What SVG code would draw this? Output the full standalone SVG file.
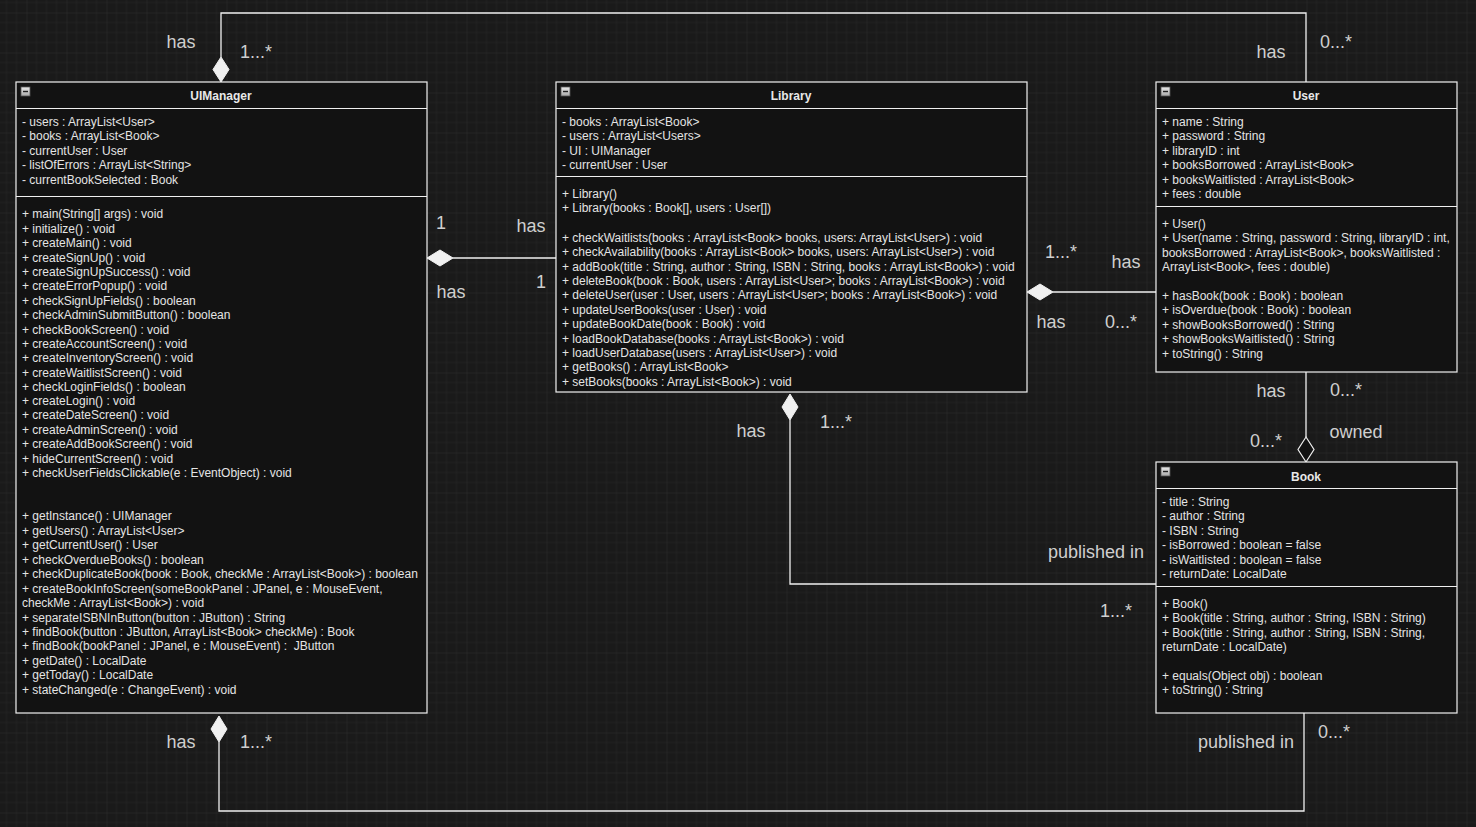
<svg xmlns="http://www.w3.org/2000/svg" width="1476" height="827" viewBox="0 0 1476 827">
  <defs>
    <!-- drawing grid: fine lines every 10px, stronger every 40px -->
    <pattern id="grid" x="26.5" y="12.5" width="40" height="40" patternUnits="userSpaceOnUse">
      <path d="M10 0V40M20 0V40M30 0V40M0 10H40M0 20H40M0 30H40" stroke="#222222" stroke-width="1" fill="none"/>
      <path d="M0 0V40M0 0H40" stroke="#2d2d2d" stroke-width="1" fill="none"/>
    </pattern>
    <linearGradient id="btn" x1="0" y1="0" x2="0" y2="1">
      <stop offset="0" stop-color="#e8e8e8"/>
      <stop offset="1" stop-color="#a8a8a8"/>
    </linearGradient>
    <g id="collapse">
      <rect x="0" y="0" width="9" height="9" fill="url(#btn)" stroke="#555" stroke-width="0.8"/>
      <path d="M2 4.5H7" stroke="#222" stroke-width="1.4"/>
    </g>
  </defs>
  <style>
    .box { fill: #121212; stroke: #f0f0f0; stroke-width: 1.2; }
    .sep { stroke: #f0f0f0; stroke-width: 1.2; }
    .title { font-family: "Liberation Sans", Arial, sans-serif; font-size: 12px; font-weight: bold; fill: #e8e8e8; text-anchor: middle; }
    .m { font-family: "Liberation Sans", Arial, sans-serif; font-size: 12px; fill: #e4e4e4; }
    .lbl { font-family: "Liberation Sans", Arial, sans-serif; font-size: 18px; fill: #cfcfcf; text-anchor: middle; }
    .edge { fill: none; stroke: #f0f0f0; stroke-width: 1.3; }
    .dia { fill: #f0f0f0; stroke: #f0f0f0; stroke-width: 1; }
    .odia { fill: #121212; stroke: #f0f0f0; stroke-width: 1.2; }
  </style>

  <rect x="0" y="0" width="1476" height="827" fill="#1a1a1a"/>
  <rect x="0" y="0" width="1476" height="827" fill="url(#grid)"/>

  <!-- connectors -->
  <g id="connectors">
    <!-- UIManager (top) composition with User -->
    <path class="edge" d="M221 57V13H1306V82"/>
    <polygon class="dia" points="221,82 229,69.5 221,57 213,69.5"/>
    <!-- UIManager composition with Library -->
    <path class="edge" d="M453 258H556"/>
    <polygon class="dia" points="427,258 440,250 453,258 440,266"/>
    <!-- Library composition with User -->
    <path class="edge" d="M1053 292H1156"/>
    <polygon class="dia" points="1027,292 1040,284 1053,292 1040,300"/>
    <!-- Library composition with Book -->
    <path class="edge" d="M790 420V584H1156"/>
    <polygon class="dia" points="790,394 798,407 790,420 782,407"/>
    <!-- User aggregation of Book -->
    <path class="edge" d="M1306 372V437"/>
    <polygon class="odia" points="1306,437 1314,449.5 1306,462 1298,449.5"/>
    <!-- Book to UIManager (bottom) -->
    <path class="edge" d="M1304 713V811H219V742"/>
    <polygon class="dia" points="219,716 227,729 219,742 211,729"/>

    <text class="lbl" x="181" y="48">has</text>
    <text class="lbl" x="256" y="58">1...*</text>
    <text class="lbl" x="1271" y="58">has</text>
    <text class="lbl" x="1336" y="48">0...*</text>

    <text class="lbl" x="441" y="229">1</text>
    <text class="lbl" x="531" y="232">has</text>
    <text class="lbl" x="451" y="298">has</text>
    <text class="lbl" x="541" y="288">1</text>

    <text class="lbl" x="1061" y="258">1...*</text>
    <text class="lbl" x="1126" y="268">has</text>
    <text class="lbl" x="1051" y="328">has</text>
    <text class="lbl" x="1121" y="328">0...*</text>

    <text class="lbl" x="751" y="437">has</text>
    <text class="lbl" x="836" y="428">1...*</text>
    <text class="lbl" x="1096" y="558">published in</text>
    <text class="lbl" x="1116" y="617">1...*</text>

    <text class="lbl" x="1271" y="397">has</text>
    <text class="lbl" x="1346" y="396">0...*</text>
    <text class="lbl" x="1356" y="438">owned</text>
    <text class="lbl" x="1266" y="447">0...*</text>

    <text class="lbl" x="181" y="748">has</text>
    <text class="lbl" x="256" y="748">1...*</text>
    <text class="lbl" x="1246" y="748">published in</text>
    <text class="lbl" x="1334" y="738">0...*</text>
  </g>

  <!-- UIManager class -->
  <g id="UIManager">
    <rect class="box" x="16" y="82" width="411" height="631"/>
    <line class="sep" x1="16" y1="108.5" x2="427" y2="108.5"/>
    <line class="sep" x1="16" y1="196.5" x2="427" y2="196.5"/>
    <use href="#collapse" x="21" y="87"/>
    <g transform="translate(0,1)">
    <text class="title" x="221" y="99">UIManager</text>
    <text class="m" x="22" y="125">- users : ArrayList&lt;User&gt;</text>
    <text class="m" x="22" y="139">- books : ArrayList&lt;Book&gt;</text>
    <text class="m" x="22" y="154">- currentUser : User</text>
    <text class="m" x="22" y="168">- listOfErrors : ArrayList&lt;String&gt;</text>
    <text class="m" x="22" y="183">- currentBookSelected : Book</text>
    <text class="m" x="22" y="217">+ main(String[] args) : void</text>
    <text class="m" x="22" y="232">+ initialize() : void</text>
    <text class="m" x="22" y="246">+ createMain() : void</text>
    <text class="m" x="22" y="261">+ createSignUp() : void</text>
    <text class="m" x="22" y="275">+ createSignUpSuccess() : void</text>
    <text class="m" x="22" y="289">+ createErrorPopup() : void</text>
    <text class="m" x="22" y="304">+ checkSignUpFields() : boolean</text>
    <text class="m" x="22" y="318">+ checkAdminSubmitButton() : boolean</text>
    <text class="m" x="22" y="333">+ checkBookScreen() : void</text>
    <text class="m" x="22" y="347">+ createAccountScreen() : void</text>
    <text class="m" x="22" y="361">+ createInventoryScreen() : void</text>
    <text class="m" x="22" y="376">+ createWaitlistScreen() : void</text>
    <text class="m" x="22" y="390">+ checkLoginFields() : boolean</text>
    <text class="m" x="22" y="404">+ createLogin() : void</text>
    <text class="m" x="22" y="418">+ createDateScreen() : void</text>
    <text class="m" x="22" y="433">+ createAdminScreen() : void</text>
    <text class="m" x="22" y="447">+ createAddBookScreen() : void</text>
    <text class="m" x="22" y="462">+ hideCurrentScreen() : void</text>
    <text class="m" x="22" y="476">+ checkUserFieldsClickable(e : EventObject) : void</text>
    <text class="m" x="22" y="519">+ getInstance() : UIManager</text>
    <text class="m" x="22" y="534">+ getUsers() : ArrayList&lt;User&gt;</text>
    <text class="m" x="22" y="548">+ getCurrentUser() : User</text>
    <text class="m" x="22" y="563">+ checkOverdueBooks() : boolean</text>
    <text class="m" x="22" y="577">+ checkDuplicateBook(book : Book, checkMe : ArrayList&lt;Book&gt;) : boolean</text>
    <text class="m" x="22" y="592">+ createBookInfoScreen(someBookPanel : JPanel, e : MouseEvent,</text>
    <text class="m" x="22" y="606">checkMe : ArrayList&lt;Book&gt;) : void</text>
    <text class="m" x="22" y="621">+ separateISBNInButton(button : JButton) : String</text>
    <text class="m" x="22" y="635">+ findBook(button : JButton, ArrayList&lt;Book&gt; checkMe) : Book</text>
    <text class="m" x="22" y="649" xml:space="preserve">+ findBook(bookPanel : JPanel, e : MouseEvent) :  JButton</text>
    <text class="m" x="22" y="664">+ getDate() : LocalDate</text>
    <text class="m" x="22" y="678">+ getToday() : LocalDate</text>
    <text class="m" x="22" y="693">+ stateChanged(e : ChangeEvent) : void</text>
    </g>
  </g>

  <!-- Library class -->
  <g id="Library">
    <rect class="box" x="556" y="82" width="471" height="310"/>
    <line class="sep" x1="556" y1="108.5" x2="1027" y2="108.5"/>
    <line class="sep" x1="556" y1="176.5" x2="1027" y2="176.5"/>
    <use href="#collapse" x="561" y="87"/>
    <g transform="translate(0,1)">
    <text class="title" x="791" y="99">Library</text>
    <text class="m" x="562" y="125">- books : ArrayList&lt;Book&gt;</text>
    <text class="m" x="562" y="139">- users : ArrayList&lt;Users&gt;</text>
    <text class="m" x="562" y="154">- UI : UIManager</text>
    <text class="m" x="562" y="168">- currentUser : User</text>
    <text class="m" x="562" y="197">+ Library()</text>
    <text class="m" x="562" y="211">+ Library(books : Book[], users : User[])</text>
    <text class="m" x="562" y="241">+ checkWaitlists(books : ArrayList&lt;Book&gt; books, users: ArrayList&lt;User&gt;) : void</text>
    <text class="m" x="562" y="255">+ checkAvailability(books : ArrayList&lt;Book&gt; books, users: ArrayList&lt;User&gt;) : void</text>
    <text class="m" x="562" y="270">+ addBook(title : String, author : String, ISBN : String, books : ArrayList&lt;Book&gt;) : void</text>
    <text class="m" x="562" y="284">+ deleteBook(book : Book, users : ArrayList&lt;User&gt;; books : ArrayList&lt;Book&gt;) : void</text>
    <text class="m" x="562" y="298">+ deleteUser(user : User, users : ArrayList&lt;User&gt;; books : ArrayList&lt;Book&gt;) : void</text>
    <text class="m" x="562" y="313">+ updateUserBooks(user : User) : void</text>
    <text class="m" x="562" y="327">+ updateBookDate(book : Book) : void</text>
    <text class="m" x="562" y="342">+ loadBookDatabase(books : ArrayList&lt;Book&gt;) : void</text>
    <text class="m" x="562" y="356">+ loadUserDatabase(users : ArrayList&lt;User&gt;) : void</text>
    <text class="m" x="562" y="370">+ getBooks() : ArrayList&lt;Book&gt;</text>
    <text class="m" x="562" y="385">+ setBooks(books : ArrayList&lt;Book&gt;) : void</text>
    </g>
  </g>

  <!-- User class -->
  <g id="User">
    <rect class="box" x="1156" y="82" width="301" height="290"/>
    <line class="sep" x1="1156" y1="108.5" x2="1457" y2="108.5"/>
    <line class="sep" x1="1156" y1="206.5" x2="1457" y2="206.5"/>
    <use href="#collapse" x="1161" y="87"/>
    <g transform="translate(0,1)">
    <text class="title" x="1306" y="99">User</text>
    <text class="m" x="1162" y="125">+ name : String</text>
    <text class="m" x="1162" y="139">+ password : String</text>
    <text class="m" x="1162" y="154">+ libraryID : int</text>
    <text class="m" x="1162" y="168">+ booksBorrowed : ArrayList&lt;Book&gt;</text>
    <text class="m" x="1162" y="183">+ booksWaitlisted : ArrayList&lt;Book&gt;</text>
    <text class="m" x="1162" y="197">+ fees : double</text>
    <text class="m" x="1162" y="227">+ User()</text>
    <text class="m" x="1162" y="241">+ User(name : String, password : String, libraryID : int,</text>
    <text class="m" x="1162" y="256">booksBorrowed : ArrayList&lt;Book&gt;, booksWaitlisted :</text>
    <text class="m" x="1162" y="270">ArrayList&lt;Book&gt;, fees : double)</text>
    <text class="m" x="1162" y="299">+ hasBook(book : Book) : boolean</text>
    <text class="m" x="1162" y="313">+ isOverdue(book : Book) : boolean</text>
    <text class="m" x="1162" y="328">+ showBooksBorrowed() : String</text>
    <text class="m" x="1162" y="342">+ showBooksWaitlisted() : String</text>
    <text class="m" x="1162" y="357">+ toString() : String</text>
    </g>
  </g>

  <!-- Book class -->
  <g id="Book">
    <rect class="box" x="1156" y="462" width="301" height="251"/>
    <line class="sep" x1="1156" y1="488.5" x2="1457" y2="488.5"/>
    <line class="sep" x1="1156" y1="586.5" x2="1457" y2="586.5"/>
    <use href="#collapse" x="1161" y="467"/>
    <g transform="translate(0,1)">
    <text class="title" x="1306" y="480">Book</text>
    <text class="m" x="1162" y="505">- title : String</text>
    <text class="m" x="1162" y="519">- author : String</text>
    <text class="m" x="1162" y="534">- ISBN : String</text>
    <text class="m" x="1162" y="548">- isBorrowed : boolean = false</text>
    <text class="m" x="1162" y="563">- isWaitlisted : boolean = false</text>
    <text class="m" x="1162" y="577">- returnDate: LocalDate</text>
    <text class="m" x="1162" y="607">+ Book()</text>
    <text class="m" x="1162" y="621">+ Book(title : String, author : String, ISBN : String)</text>
    <text class="m" x="1162" y="636">+ Book(title : String, author : String, ISBN : String,</text>
    <text class="m" x="1162" y="650">returnDate : LocalDate)</text>
    <text class="m" x="1162" y="679">+ equals(Object obj) : boolean</text>
    <text class="m" x="1162" y="693">+ toString() : String</text>
    </g>
  </g>
</svg>
